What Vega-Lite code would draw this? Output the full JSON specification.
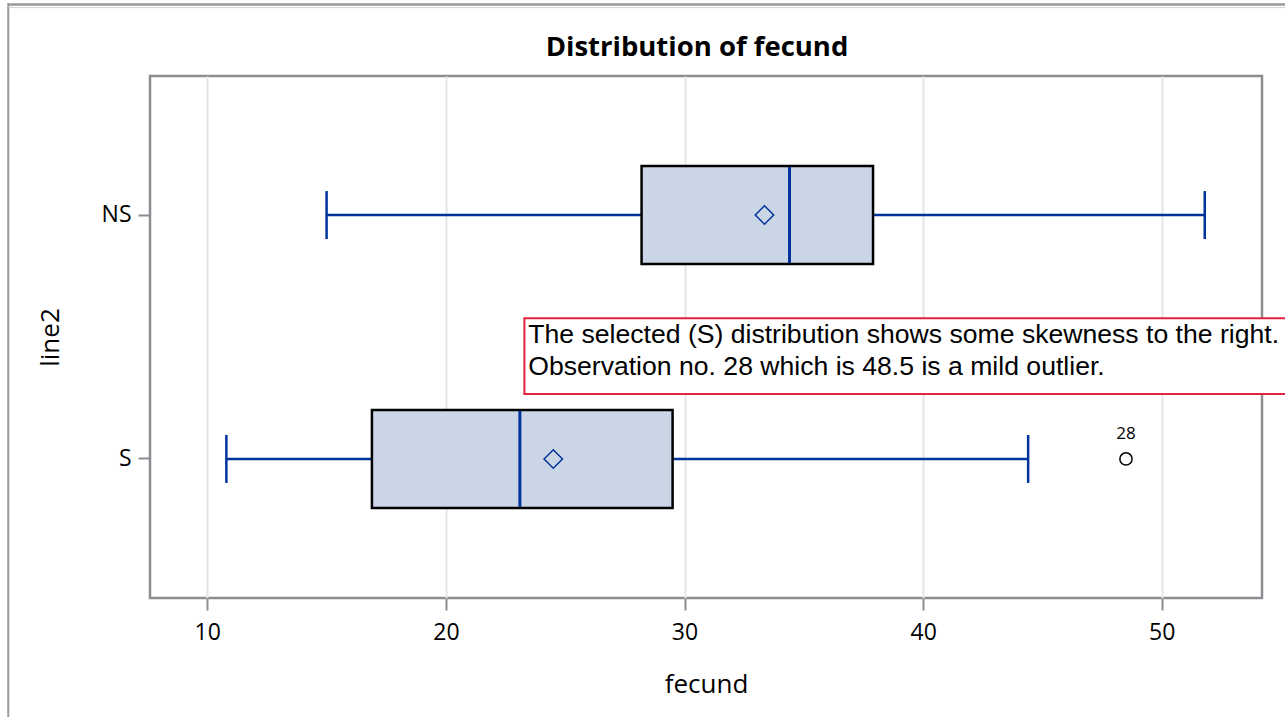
{
  "$schema": "https://vega.github.io/schema/vega-lite/v6.json",
  "width": 1112,
  "height": 522,
  "autosize": {"type": "none"},
  "padding": {"left": 150, "top": 76, "right": 23, "bottom": 119},
  "background": "white",
  "title": {"text": "Distribution of fecund", "font": "Open Sans", "fontSize": 27.5, "fontWeight": "bold", "color": "black", "offset": 0, "baseline": "alphabetic", "dy": 82, "dx": -9},
  "config": {
    "view": {"stroke": "#8A8D91", "strokeWidth": 2.5},
    "axis": {"labelFont": "Open Sans", "titleFont": "Open Sans", "labelColor": "black", "titleColor": "black", "labelFontSize": 23, "titleFontSize": 26, "titleFontWeight": "normal", "domain": false, "tickColor": "#8A8D91", "tickWidth": 2, "tickSize": 12}
  },
  "datasets": {
    "stats": [
      {"line2": "NS", "lo": 15.0, "q1": 28.2, "median": 34.4, "q3": 37.9, "hi": 51.8, "mean": 33.35},
      {"line2": "S", "lo": 10.8, "q1": 16.9, "median": 23.1, "q3": 29.5, "hi": 44.4, "mean": 24.5}
    ],
    "outliers": [{"line2": "S", "fecund": 48.5, "obs": "28"}],
    "note": [{"x": 23.29, "x2": 60, "y": 0.391, "y2": 0.536}],
    "noteText": [
      {"x": 23.45, "y": 0.504, "text": "The selected (S) distribution shows some skewness to the right."},
      {"x": 23.45, "y": 0.4425, "text": "Observation no. 28 which is 48.5 is a mild outlier."}
    ],
    "frameV": [{"x": 1.66, "y": -0.5, "y2": 1.14}],
    "frameH": [{"x": 1.66, "x2": 60, "y": 1.137, "c": "dark"}, {"x": 1.66, "x2": 60, "y": 1.131, "c": "light"}]
  },
  "layer": [
    {
      "layer": [
        {
          "data": {"name": "stats"},
          "mark": {"type": "rule", "color": "#00349C", "strokeWidth": 2.5},
          "encoding": {
            "x": {"field": "lo", "type": "quantitative", "title": "fecund", "scale": {"domain": [7.6, 54.2], "nice": false, "zero": false}, "axis": {"values": [10, 20, 30, 40, 50], "grid": true, "gridColor": "#E6E6E6", "gridWidth": 2, "labelPadding": 11, "titlePadding": 27}},
            "x2": {"field": "hi"},
            "y": {"field": "line2", "type": "nominal", "bandPosition": 0.5, "scale": {"type": "band", "paddingInner": 0.598, "paddingOuter": 0.369}, "axis": {"grid": false, "labelPadding": 7, "titlePadding": 38, "labelAngle": 0}}
          }
        },
        {
          "data": {"name": "stats"},
          "mark": {"type": "tick", "color": "#00349C", "thickness": 2.5, "size": 48, "opacity": 1},
          "encoding": {
            "x": {"field": "lo", "type": "quantitative", "scale": {"domain": [7.6, 54.2], "nice": false, "zero": false}},
            "y": {"field": "line2", "type": "nominal"}
          }
        },
        {
          "data": {"name": "stats"},
          "mark": {"type": "tick", "color": "#00349C", "thickness": 2.5, "size": 48, "opacity": 1},
          "encoding": {
            "x": {"field": "hi", "type": "quantitative", "scale": {"domain": [7.6, 54.2], "nice": false, "zero": false}},
            "y": {"field": "line2", "type": "nominal"}
          }
        },
        {
          "data": {"name": "stats"},
          "mark": {"type": "bar", "fill": "#CAD5E6", "stroke": "black", "strokeWidth": 2.5, "opacity": 1},
          "encoding": {
            "x": {"field": "q1", "type": "quantitative", "scale": {"domain": [7.6, 54.2], "nice": false, "zero": false}},
            "x2": {"field": "q3"},
            "y": {"field": "line2", "type": "nominal"}
          }
        },
        {
          "data": {"name": "stats"},
          "mark": {"type": "tick", "color": "#00349C", "thickness": 3, "size": 96, "opacity": 1},
          "encoding": {
            "x": {"field": "median", "type": "quantitative", "scale": {"domain": [7.6, 54.2], "nice": false, "zero": false}},
            "y": {"field": "line2", "type": "nominal"}
          }
        },
        {
          "data": {"name": "stats"},
          "mark": {"type": "point", "shape": "diamond", "filled": false, "stroke": "#00349C", "strokeWidth": 1.5, "size": 340, "opacity": 1},
          "encoding": {
            "x": {"field": "mean", "type": "quantitative", "scale": {"domain": [7.6, 54.2], "nice": false, "zero": false}},
            "y": {"field": "line2", "type": "nominal", "bandPosition": 0.5}
          }
        },
        {
          "data": {"name": "outliers"},
          "mark": {"type": "point", "shape": "circle", "filled": false, "stroke": "black", "strokeWidth": 1.5, "size": 150, "opacity": 1},
          "encoding": {
            "x": {"field": "fecund", "type": "quantitative", "scale": {"domain": [7.6, 54.2], "nice": false, "zero": false}},
            "y": {"field": "line2", "type": "nominal", "bandPosition": 0.5}
          }
        },
        {
          "data": {"name": "outliers"},
          "mark": {"type": "text", "font": "Open Sans", "fontSize": 17, "color": "black", "dy": -25, "baseline": "middle"},
          "encoding": {
            "x": {"field": "fecund", "type": "quantitative", "scale": {"domain": [7.6, 54.2], "nice": false, "zero": false}},
            "y": {"field": "line2", "type": "nominal", "bandPosition": 0.5},
            "text": {"field": "obs"}
          }
        }
      ]
    },
    {
      "layer": [
        {
          "data": {"name": "note"},
          "mark": {"type": "rect", "fill": "white", "stroke": "#E0243C", "strokeWidth": 2},
          "encoding": {
            "x": {"field": "x", "type": "quantitative", "scale": {"domain": [7.6, 54.2], "nice": false, "zero": false}},
            "x2": {"field": "x2"},
            "y": {"field": "y", "type": "quantitative", "scale": {"domain": [0, 1], "nice": false, "zero": false}, "axis": null},
            "y2": {"field": "y2"}
          }
        },
        {
          "data": {"name": "noteText"},
          "mark": {"type": "text", "font": "Liberation Sans", "fontSize": 26.6, "color": "black", "align": "left", "baseline": "middle"},
          "encoding": {
            "x": {"field": "x", "type": "quantitative", "scale": {"domain": [7.6, 54.2], "nice": false, "zero": false}},
            "y": {"field": "y", "type": "quantitative", "scale": {"domain": [0, 1], "nice": false, "zero": false}, "axis": null},
            "text": {"field": "text"}
          }
        },
        {
          "data": {"name": "frameV"},
          "mark": {"type": "rule", "color": "#999999", "strokeWidth": 2},
          "encoding": {
            "x": {"field": "x", "type": "quantitative", "scale": {"domain": [7.6, 54.2], "nice": false, "zero": false}},
            "y": {"field": "y", "type": "quantitative", "scale": {"domain": [0, 1], "nice": false, "zero": false}, "axis": null},
            "y2": {"field": "y2"}
          }
        },
        {
          "data": {"name": "frameH"},
          "mark": {"type": "rule"},
          "encoding": {
            "x": {"field": "x", "type": "quantitative", "scale": {"domain": [7.6, 54.2], "nice": false, "zero": false}},
            "x2": {"field": "x2"},
            "y": {"field": "y", "type": "quantitative", "scale": {"domain": [0, 1], "nice": false, "zero": false}, "axis": null},
            "color": {"field": "c", "type": "nominal", "scale": {"domain": ["dark", "light"], "range": ["#999999", "#D0D0D0"]}, "legend": null},
            "strokeWidth": {"field": "c", "type": "nominal", "scale": {"domain": ["dark", "light"], "range": [2.5, 1]}, "legend": null}
          }
        }
      ]
    }
  ],
  "resolve": {"scale": {"y": "independent"}, "axis": {"y": "independent"}}
}
